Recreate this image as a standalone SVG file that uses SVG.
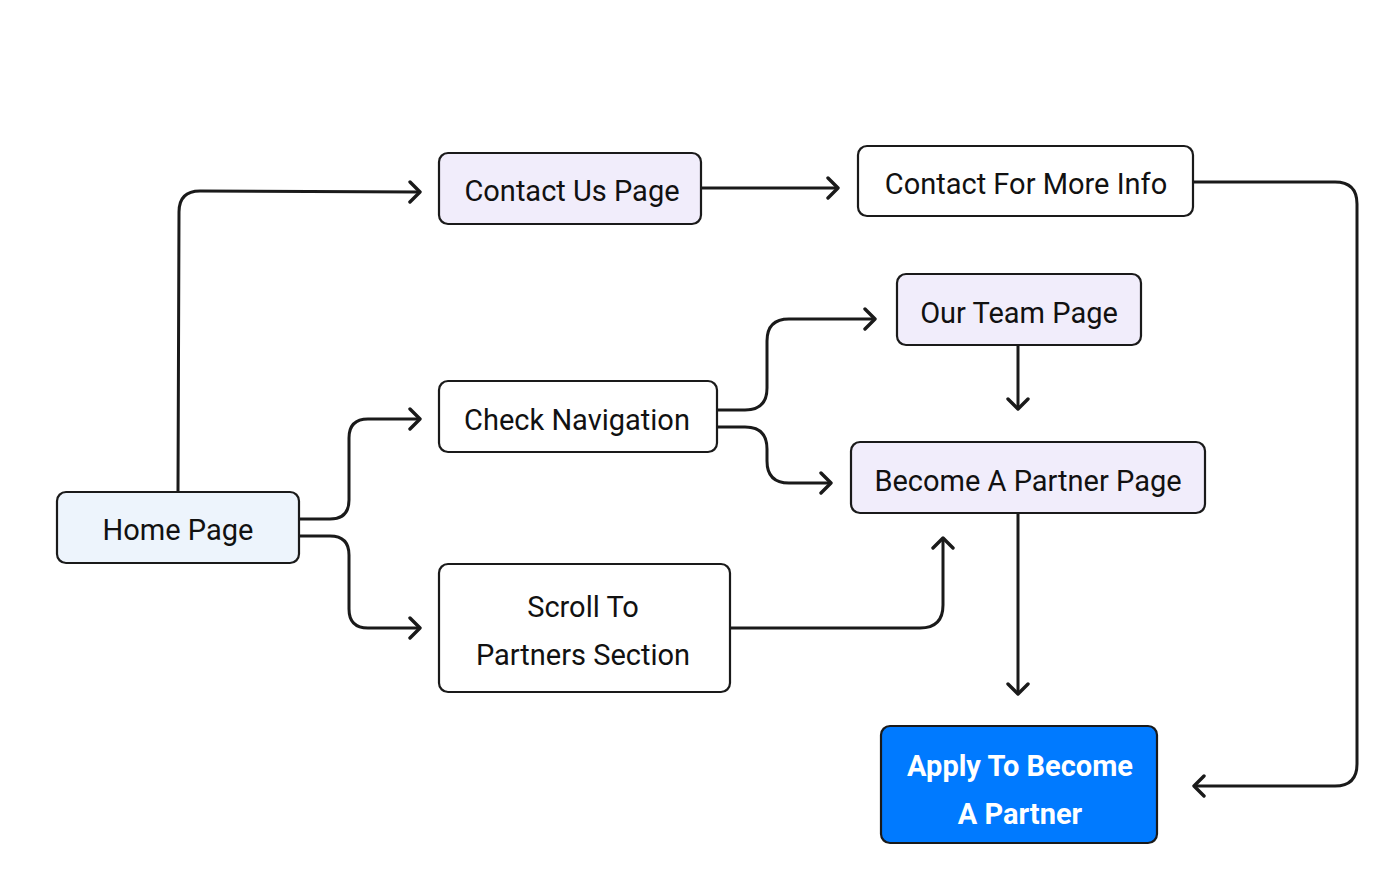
<svg xmlns="http://www.w3.org/2000/svg" width="1396" height="888" viewBox="0 0 1396 888">
<defs>
<style>
.n rect{stroke:#1a1a1a;stroke-width:2.2}
.w{fill:#ffffff}
.l{fill:#f1edfb}
.b{fill:#edf4fc}
.p{fill:#007aff}
text{font-family:Roboto,"Liberation Sans",sans-serif;font-size:29px;fill:#111111;text-anchor:middle}
.t{fill:#ffffff;font-weight:bold}
.c path{fill:none;stroke:#1a1a1a;stroke-width:3;marker-end:url(#a)}
</style>
<marker id="a" viewBox="-12 -12 16 24" refX="0" refY="0" markerWidth="16" markerHeight="24" markerUnits="userSpaceOnUse" orient="auto">
<path d="M-9,-10 L1,0 L-9,10" fill="none" stroke="#1a1a1a" stroke-width="3.4" stroke-linecap="round" stroke-linejoin="round"/>
</marker>
</defs>
<rect width="1396" height="888" fill="#ffffff"/>
<g class="c" id="connectors">
<path d="M178,492 L179,212 Q179,191 200,191 L419,192"/>
<path d="M299,519 L330,519 Q349,519 349,500 L349,438 Q349,419 368,419 L419,419"/>
<path d="M299,536 L330,536 Q349,536 349,555 L349,609 Q349,628 368,628 L419,628"/>
<path d="M701,188 L837,188"/>
<path d="M1193,182 L1335,182 Q1357,182 1357,204 L1357,764 Q1357,786 1335,786 L1195,786"/>
<path d="M717,410 L745,410 Q767,410 767,388 L767,341 Q767,319 789,319 L874,319"/>
<path d="M717,427 L745,427 Q767,427 767,449 L767,461 Q767,483 789,483 L830,483"/>
<path d="M1018,345 L1018,408"/>
<path d="M1018,513 L1018,693"/>
<path d="M730,628 L920,628 Q943,628 943,605 L943,539"/>
</g>
<g class="n" id="home"><rect class="b" x="57" y="492" width="242" height="71" rx="9"/><text x="178" y="540">Home Page</text></g>
<g class="n" id="contact-us"><rect class="l" x="439" y="153" width="262" height="71" rx="9"/><text x="572" y="201">Contact Us Page</text></g>
<g class="n" id="contact-info"><rect class="w" x="858" y="146" width="335" height="70" rx="9"/><text x="1026" y="194">Contact For More Info</text></g>
<g class="n" id="our-team"><rect class="l" x="897" y="274" width="244" height="71" rx="9"/><text x="1019" y="323">Our Team Page</text></g>
<g class="n" id="check-nav"><rect class="w" x="439" y="381" width="278" height="71" rx="9"/><text x="577" y="430">Check Navigation</text></g>
<g class="n" id="become"><rect class="l" x="851" y="442" width="354" height="71" rx="9"/><text x="1028" y="491">Become A Partner Page</text></g>
<g class="n" id="scroll"><rect class="w" x="439" y="564" width="291" height="128" rx="9"/><text x="583" y="617">Scroll To</text><text x="583" y="665">Partners Section</text></g>
<g class="n" id="apply"><rect class="p" x="881" y="726" width="276" height="117" rx="9"/><text class="t" x="1020" y="776">Apply To Become</text><text class="t" x="1020" y="824">A Partner</text></g>
</svg>
